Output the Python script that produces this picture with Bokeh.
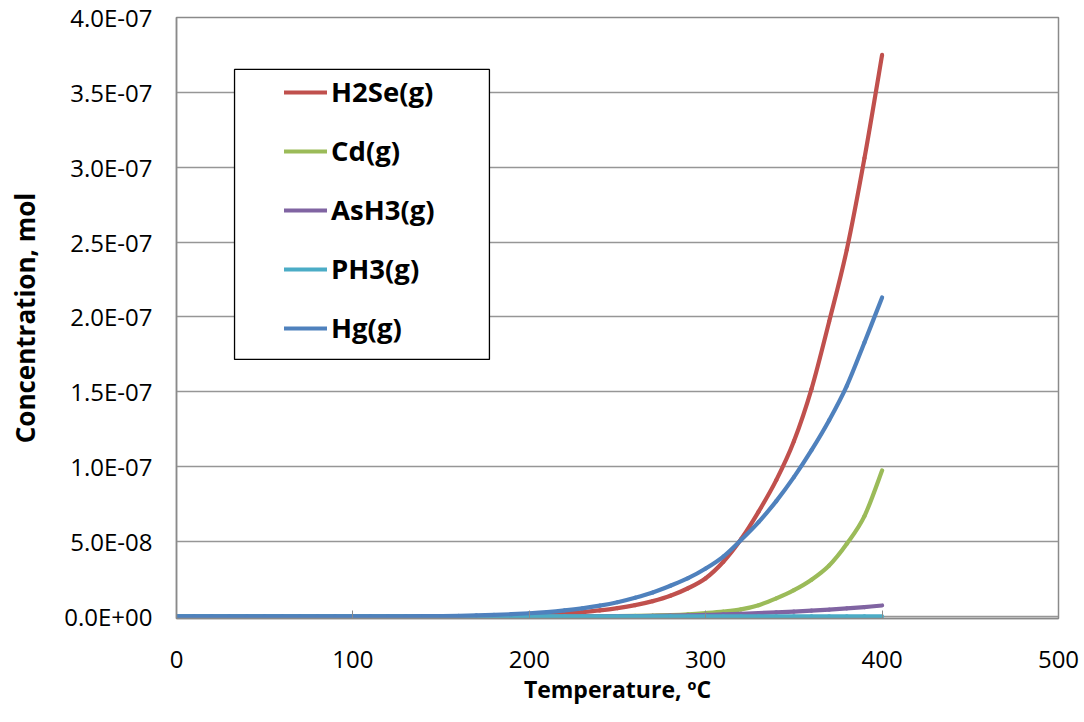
from bokeh.plotting import figure
from bokeh.models import Range1d, FixedTicker, Legend, LegendItem, BoxAnnotation
from bokeh.embed import file_html
from bokeh.resources import INLINE

# ---------------- data ----------------
temperature = [0, 10, 20, 30, 40, 50, 60, 70, 80, 90,
               100, 110, 120, 130, 140, 150, 160, 170, 180, 190,
               200, 210, 220, 230, 240, 250, 260, 270, 280, 290,
               300, 310, 320, 330, 340, 350, 360, 370, 380, 390, 400]

h2se = [0, 0, 0, 0, 0, 0, 0, 0, 0, 0,
        0, 0, 0, 0, 0, 5.0e-11, 1.0e-10, 2.0e-10, 3.5e-10, 6.0e-10,
        9.0e-10, 1.4e-9, 2.0e-9, 2.9e-9, 4.0e-9, 5.5e-9, 7.5e-9, 1.02e-8, 1.38e-8, 1.88e-8,
        2.55e-8, 3.65e-8, 5.15e-8, 7.0e-8, 9.1e-8, 1.17e-7, 1.52e-7, 1.97e-7, 2.45e-7, 3.06e-7, 3.75e-7]

cd = [0, 0, 0, 0, 0, 0, 0, 0, 0, 0,
      0, 0, 0, 0, 0, 0, 0, 0, 0, 0,
      1.0e-11, 2.0e-11, 3.0e-11, 6.0e-11, 1.0e-10, 2.0e-10, 3.5e-10, 6.0e-10, 9.0e-10, 1.4e-9,
      2.2e-9, 3.2e-9, 4.7e-9, 7.5e-9, 1.2e-8, 1.75e-8, 2.45e-8, 3.4e-8, 4.85e-8, 6.7e-8, 9.75e-8]

ash3 = [0, 0, 0, 0, 0, 0, 0, 0, 0, 0,
        0, 0, 0, 0, 0, 0, 0, 0, 0, 0,
        1.0e-11, 2.0e-11, 4.0e-11, 7.0e-11, 1.0e-10, 1.5e-10, 2.5e-10, 3.5e-10, 5.0e-10, 7.0e-10,
        1.0e-9, 1.3e-9, 1.7e-9, 2.2e-9, 2.7e-9, 3.2e-9, 3.8e-9, 4.5e-9, 5.3e-9, 6.2e-9, 7.3e-9]

ph3 = [0, 0, 0, 0, 0, 0, 0, 0, 0, 0,
       0, 0, 0, 0, 0, 0, 0, 0, 0, 0,
       0, 0, 0, 0, 0, 0, 0, 0, 0, 0,
       0, 0, 0, 0, 0, 0, 0, 0, 0, 0, 0]

hg = [0, 0, 0, 0, 0, 0, 0, 0, 0, 0,
      1.0e-11, 2.0e-11, 4.0e-11, 8.0e-11, 1.5e-10, 2.5e-10, 4.0e-10, 6.5e-10, 1.0e-9, 1.5e-9,
      2.1e-9, 2.9e-9, 4.0e-9, 5.4e-9, 7.2e-9, 9.5e-9, 1.25e-8, 1.6e-8, 2.05e-8, 2.55e-8,
      3.2e-8, 4.0e-8, 5.1e-8, 6.3e-8, 7.7e-8, 9.3e-8, 1.11e-7, 1.31e-7, 1.54e-7, 1.83e-7, 2.13e-7]

series_names = ["H2Se(g)", "Cd(g)", "AsH3(g)", "PH3(g)", "Hg(g)"]
series_values = [h2se, cd, ash3, ph3, hg]
series_colors = ["#C0504D", "#9BBB59", "#8064A2", "#4BACC6", "#4F81BD"]

x_ticks = [0, 100, 200, 300, 400, 500]
y_ticks = [0.0, 5e-8, 1e-7, 1.5e-7, 2e-7, 2.5e-7, 3e-7, 3.5e-7, 4e-7]
y_tick_labels = ["0.0E+00", "5.0E-08", "1.0E-07", "1.5E-07", "2.0E-07",
                 "2.5E-07", "3.0E-07", "3.5E-07", "4.0E-07"]

x_title = "Temperature, \u00baC"
y_title = "Concentration, mol"


def smooth_segments(xs, ys):
    """Catmull-Rom style smoothing (like a spreadsheet 'smoothed line'),
    expressed as cubic Bezier segments in data space."""
    n = len(xs)
    x0, y0, x1, y1, cx0, cy0, cx1, cy1 = [], [], [], [], [], [], [], []
    for i in range(n - 1):
        ip = max(i - 1, 0)
        inn = min(i + 2, n - 1)
        x0.append(xs[i]); y0.append(ys[i])
        x1.append(xs[i + 1]); y1.append(ys[i + 1])
        cx0.append(xs[i] + (xs[i + 1] - xs[ip]) / 6.0)
        cy0.append(ys[i] + (ys[i + 1] - ys[ip]) / 6.0)
        cx1.append(xs[i + 1] - (xs[inn] - xs[i]) / 6.0)
        cy1.append(ys[i + 1] - (ys[inn] - ys[i]) / 6.0)
    return dict(x0=x0, y0=y0, x1=x1, y1=y1, cx0=cx0, cy0=cy0, cx1=cx1, cy1=cy1)


# ---------------- figure ----------------
# the y range starts a hair below zero so that the zero-valued lines are not
# half-clipped by the plot frame (as in the spreadsheet original)
W, H = 1080, 720
Y_LOW = -1.4e-9
p = figure(width=W, height=H, output_backend="svg", toolbar_location=None,
           x_range=Range1d(0, 500), y_range=Range1d(Y_LOW, 4e-7),
           min_border_left=176, min_border_right=W - 1058,
           min_border_top=17, min_border_bottom=H - 618)

p.background_fill_color = "white"
p.border_fill_color = "white"
p.outline_line_color = "#8a8a8a"
p.outline_line_width = 1.5

p.xgrid.visible = False
p.ygrid.grid_line_color = "#969696"
p.ygrid.grid_line_width = 1.5

GRAY = "#8a8a8a"
for ax in (p.xaxis[0], p.yaxis[0]):
    ax.axis_line_color = GRAY
    ax.axis_line_width = 1.5
    ax.major_tick_line_color = GRAY
    ax.minor_tick_line_color = None
    ax.major_label_text_font = "Open Sans"
    ax.major_label_text_font_size = "24px"
    ax.major_label_text_color = "black"
    ax.axis_label_text_font = "Open Sans"
    ax.axis_label_text_font_style = "bold"
    ax.axis_label_text_color = "black"

p.xaxis.ticker = FixedTicker(ticks=x_ticks)
p.xaxis.major_tick_in = 8
p.xaxis.major_tick_out = 0
p.xaxis.major_label_standoff = 32
p.xaxis.axis_label = x_title
p.xaxis.axis_label_text_font_size = "23px"
p.xaxis.axis_label_standoff = 2

p.yaxis.ticker = FixedTicker(ticks=y_ticks)
p.yaxis.major_label_overrides = dict(zip(y_ticks, y_tick_labels))
p.yaxis.major_tick_in = 0
p.yaxis.major_tick_out = 0
p.yaxis.major_label_standoff = 24
p.yaxis.axis_label = y_title
p.yaxis.axis_label_text_font_size = "26px"
p.yaxis.axis_label_standoff = 18

curve_renderers = []
for vals, col in zip(series_values, series_colors):
    seg = smooth_segments(temperature, vals)
    r = p.bezier(x0=seg["x0"], y0=seg["y0"], x1=seg["x1"], y1=seg["y1"],
                 cx0=seg["cx0"], cy0=seg["cy0"], cx1=seg["cx1"], cy1=seg["cy1"],
                 line_color=col, line_width=4.2, line_cap="round")
    curve_renderers.append(r)

# legend frame (white box with black border)
box = BoxAnnotation(left=32.9, right=177.4, bottom=1.716e-7, top=3.653e-7,
                    fill_color="white", fill_alpha=1.0,
                    line_color="black", line_width=1.3, line_alpha=1.0)
p.add_layout(box)

items = [LegendItem(label=n, renderers=[r]) for n, r in zip(series_names, curve_renderers)]
legend = Legend(items=items, location=(108, 272), padding=0, margin=0,
                spacing=22, glyph_width=43, glyph_height=36, label_height=36,
                label_standoff=4, label_text_font="Open Sans",
                label_text_font_style="bold", label_text_font_size="27.5px",
                label_text_color="black",
                border_line_color=None, background_fill_alpha=0)
p.add_layout(legend)

open("out.html", "w").write(file_html(p, INLINE))
